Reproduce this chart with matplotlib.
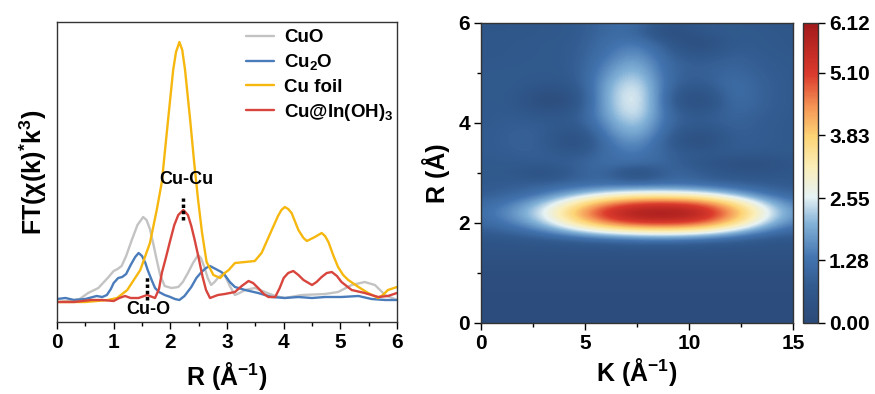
import numpy as np
import matplotlib
matplotlib.use("Agg")
import matplotlib.pyplot as plt
from matplotlib.colors import LinearSegmentedColormap
from matplotlib.ticker import MultipleLocator

plt.rcParams['font.family'] = ['Liberation Sans', 'DejaVu Sans']
plt.rcParams['font.weight'] = 'bold'
plt.rcParams['mathtext.fontset'] = 'custom'
plt.rcParams['mathtext.rm'] = 'Liberation Sans:bold'
plt.rcParams['mathtext.it'] = 'Liberation Sans:bold'
plt.rcParams['mathtext.bf'] = 'Liberation Sans:bold'
plt.rcParams['mathtext.default'] = 'rm'

# ---------------- Left panel data (FT magnitude, arbitrary units) -------------
cuo_r = [0, 0.2, 0.4, 0.55, 0.73, 0.91, 1.0, 1.07, 1.14, 1.22, 1.32, 1.42, 1.52, 1.58, 1.64, 1.7,
         1.76, 1.82, 1.9, 2.02, 2.14, 2.22, 2.31, 2.4, 2.49, 2.54, 2.6, 2.66, 2.72, 2.78, 2.84,
         2.9, 2.96, 3.05, 3.14, 3.22, 3.32, 3.49, 3.67, 3.85, 4.02, 4.32, 4.73, 4.96, 5.2, 5.43,
         5.61, 5.79, 6.0]
cuo_v = [20, 21, 23, 29, 34, 45, 51, 53, 56, 66, 82, 97, 105, 102, 93, 78,
         62, 47, 36, 34, 35, 40, 49, 59, 67, 64, 55, 44, 37, 40, 44,
         47, 47, 36, 27, 29, 32, 34, 30, 26, 24, 27, 28, 30, 37, 40,
         37, 27, 22]

cu2o_r = [0, 0.15, 0.3, 0.5, 0.7, 0.8, 0.88, 0.95, 1.0, 1.08, 1.15, 1.22, 1.3, 1.38, 1.44, 1.5,
          1.56, 1.6, 1.67, 1.73, 1.8, 1.9, 2.0, 2.08, 2.16, 2.25, 2.37, 2.46, 2.55, 2.63, 2.7,
          2.8, 2.9, 2.96, 3.05, 3.14, 3.32, 3.55, 3.79, 4.02, 4.26, 4.5, 4.73, 5.02, 5.32, 5.55,
          5.79, 6.0]
cu2o_v = [23, 24, 22, 23, 26, 25, 27, 33, 39, 44, 45, 48, 57, 65, 69, 66,
          59, 52, 42, 34, 30, 27, 25, 23, 22, 26, 35, 44, 50, 54, 56,
          53, 50, 47, 40, 35, 32, 29, 25, 24, 25, 24, 25, 25, 26, 23,
          22, 22]

cufoil_r = [0, 0.5, 0.9, 1.06, 1.24, 1.47, 1.64, 1.76, 1.85, 1.96, 2.05, 2.1, 2.16, 2.21, 2.26,
            2.35, 2.42, 2.49, 2.56, 2.64, 2.76, 2.88, 2.96, 3.03, 3.14, 3.32, 3.49, 3.61, 3.79,
            3.9, 3.96, 4.02, 4.08, 4.14, 4.26, 4.35, 4.41, 4.55, 4.67, 4.73, 4.79, 4.88, 4.96,
            5.05, 5.14, 5.32, 5.49, 5.67, 5.75, 5.84, 6.0]
cufoil_v = [20, 20, 22, 24, 32, 52, 79, 112, 140, 202, 252, 270, 280, 272, 252,
            202, 160, 122, 89, 60, 47, 44, 49, 52, 59, 60, 61, 69, 92,
            106, 112, 115, 113, 109, 92, 84, 81, 85, 89, 86, 80, 66, 55,
            47, 42, 35, 29, 24, 27, 32, 35]

cuin_r = [0, 0.3, 0.6, 0.8, 1.0, 1.1, 1.2, 1.3, 1.44, 1.59, 1.73, 1.8, 1.85, 1.92, 2.0, 2.07,
          2.14, 2.23, 2.31, 2.37, 2.43, 2.5, 2.57, 2.63, 2.7, 2.84, 2.96, 3.14, 3.26, 3.38, 3.46,
          3.55, 3.65, 3.73, 3.85, 3.93, 4.0, 4.08, 4.17, 4.26, 4.35, 4.5, 4.58, 4.67, 4.76, 4.85,
          4.94, 5.02, 5.2, 5.43, 5.67, 5.84, 6.0]
cuin_v = [20, 20, 22, 22, 21, 24, 26, 24, 24, 27, 24, 33, 49, 64, 82, 97,
          107, 112, 107, 96, 82, 64, 45, 32, 24, 27, 28, 30, 36, 41, 39,
          34, 28, 25, 25, 34, 44, 49, 51, 47, 42, 37, 40, 45, 49, 50,
          46, 40, 32, 29, 25, 26, 29]

series_names = ['CuO', 'Cu$_2$O', 'Cu foil', 'Cu@In(OH)$_3$']

# ---------------- Right panel data (wavelet transform magnitude grid) ----------
wt_k = [0, 1.5, 3, 4.5, 6, 7.5, 9, 10.5, 12, 13.5, 15]
wt_r = [round(0.2 * i, 1) for i in range(31)]
wt_z = [
    [0.12, 0.12, 0.12, 0.12, 0.12, 0.12, 0.12, 0.12, 0.12, 0.12, 0.12],  # 0.0
    [0.12, 0.12, 0.12, 0.12, 0.12, 0.12, 0.12, 0.12, 0.12, 0.12, 0.12],  # 0.2
    [0.12, 0.12, 0.12, 0.12, 0.12, 0.12, 0.12, 0.12, 0.12, 0.12, 0.12],  # 0.4
    [0.14, 0.14, 0.14, 0.14, 0.14, 0.14, 0.14, 0.14, 0.14, 0.14, 0.14],  # 0.6
    [0.16, 0.16, 0.16, 0.16, 0.16, 0.16, 0.16, 0.16, 0.16, 0.16, 0.16],  # 0.8
    [0.22, 0.22, 0.22, 0.22, 0.22, 0.22, 0.22, 0.22, 0.22, 0.22, 0.22],  # 1.0
    [0.30, 0.30, 0.30, 0.30, 0.30, 0.30, 0.30, 0.30, 0.30, 0.30, 0.30],  # 1.2
    [0.40, 0.40, 0.40, 0.40, 0.40, 0.40, 0.40, 0.40, 0.40, 0.40, 0.40],  # 1.4
    [0.45, 0.50, 0.55, 0.60, 0.70, 0.80, 0.80, 0.70, 0.60, 0.50, 0.45],  # 1.6
    [0.75, 0.90, 1.30, 1.90, 2.40, 2.70, 2.80, 2.60, 2.00, 1.30, 0.90],  # 1.8
    [1.05, 1.45, 2.20, 3.40, 4.60, 5.20, 5.30, 5.00, 3.90, 2.40, 1.40],  # 2.0
    [1.20, 1.70, 2.60, 4.10, 5.50, 6.10, 6.20, 5.90, 4.60, 2.90, 1.65],  # 2.2
    [1.05, 1.45, 2.20, 3.30, 4.50, 5.10, 5.20, 4.90, 3.80, 2.40, 1.40],  # 2.4
    [0.80, 0.95, 1.30, 1.90, 2.40, 2.70, 2.70, 2.50, 1.90, 1.25, 0.90],  # 2.6
    [0.70, 0.80, 0.90, 1.00, 1.10, 1.00, 1.10, 1.00, 0.90, 0.80, 0.70],  # 2.8
    [0.70, 0.70, 0.15, 0.90, 1.10, 0.05, 1.10, 0.90, 0.50, 0.50, 0.60],  # 3.0
    [0.70, 0.75, 0.80, 0.90, 1.20, 1.20, 1.00, 0.55, 0.25, 0.20, 0.60],  # 3.2
    [0.75, 0.85, 0.90, 0.55, 1.20, 1.50, 0.90, 0.70, 0.80, 0.70, 0.70],  # 3.4
    [0.75, 0.90, 0.90, 0.05, 1.30, 1.80, 0.80, 0.05, 0.90, 0.80, 0.70],  # 3.6
    [0.75, 0.90, 0.90, 0.25, 1.50, 2.20, 0.90, 0.25, 0.90, 0.80, 0.70],  # 3.8
    [0.70, 0.85, 0.80, 0.60, 1.70, 2.50, 1.00, 0.70, 1.00, 0.80, 0.70],  # 4.0
    [0.70, 0.80, 0.50, 0.60, 1.90, 2.80, 1.00, 0.55, 1.10, 0.85, 0.70],  # 4.2
    [0.70, 0.75, 0.05, 0.35, 2.00, 2.90, 0.90, 0.00, 1.25, 0.90, 0.70],  # 4.4
    [0.70, 0.75, 0.20, 0.40, 2.00, 2.90, 0.90, 0.20, 1.30, 0.90, 0.70],  # 4.6
    [0.70, 0.75, 0.60, 0.60, 1.90, 2.70, 1.00, 0.70, 1.25, 0.90, 0.70],  # 4.8
    [0.70, 0.70, 0.70, 0.70, 1.70, 2.40, 1.00, 0.80, 1.10, 0.85, 0.70],  # 5.0
    [0.65, 0.70, 0.70, 0.75, 1.50, 2.10, 1.00, 0.80, 1.00, 0.80, 0.70],  # 5.2
    [0.60, 0.65, 0.70, 0.75, 1.30, 1.80, 0.90, 0.45, 0.90, 0.75, 0.65],  # 5.4
    [0.60, 0.65, 0.70, 0.75, 1.20, 1.50, 0.70, 0.00, 0.80, 0.70, 0.60],  # 5.6
    [0.60, 0.60, 0.65, 0.70, 1.10, 1.10, 0.00, 0.60, 0.75, 0.70, 0.60],  # 5.8
    [0.55, 0.60, 0.65, 0.70, 1.10, 1.20, 0.40, 0.70, 0.70, 0.65, 0.55],  # 6.0
]
cbar_ticks = [0.00, 1.28, 2.55, 3.83, 5.10, 6.12]
cbar_labels = ['0.00', '1.28', '2.55', '3.83', '5.10', '6.12']

# ---------------- Figure ----------------
W, H = 875, 394
fig = plt.figure(figsize=(W / 100, H / 100), dpi=100)

def fa(x0, y0, x1, y1):
    return [x0 / W, 1 - y1 / H, (x1 - x0) / W, (y1 - y0) / H]

ax1 = fig.add_axes(fa(57, 22, 397, 322))
colors = ['#c3c3c3', '#4a7cbb', '#f6b80f', '#d8453d']
for (r, v), c, n in zip([(cuo_r, cuo_v), (cu2o_r, cu2o_v), (cufoil_r, cufoil_v), (cuin_r, cuin_v)],
                        colors, series_names):
    ax1.plot(r, v, color=c, lw=1.7, label=n, solid_joinstyle='round', solid_capstyle='round')
ax1.set_xlim(0, 6)
ax1.set_ylim(0, 300)
ax1.set_yticks([])
ax1.xaxis.set_major_locator(MultipleLocator(1))
ax1.xaxis.set_minor_locator(MultipleLocator(0.5))
ax1.tick_params(axis='x', which='major', direction='out', length=5, width=1, labelsize=15, pad=3)
ax1.tick_params(axis='x', which='minor', direction='out', length=3, width=1)
for lab in ax1.get_xticklabels():
    lab.set_fontweight('bold')
for s in ax1.spines.values():
    s.set_linewidth(1)
    s.set_color('#333333')
ax1.set_xlabel('R (Å$^{-1}$)', fontsize=18, fontweight='bold', labelpad=6)
ax1.set_ylabel('FT(χ(k)$^{*}$k$^{3}$)', fontsize=18, fontweight='bold', labelpad=6)

leg = ax1.legend(loc='upper left', bbox_to_anchor=(246 / W, 1 - 29 / H), bbox_transform=fig.transFigure,
                 frameon=False, handlelength=1.5, handletextpad=0.55,
                 labelspacing=0.33, borderpad=0, borderaxespad=0,
                 prop={'weight': 'bold', 'size': 13.5})

ax1.text(2.29, 143, 'Cu-Cu', ha='center', va='center', fontsize=13, fontweight='bold')
ax1.plot([2.22, 2.22], [102, 124], color='black', lw=2.5, ls=(0, (1, 0.8)))
ax1.text(1.62, 12, 'Cu-O', ha='center', va='center', fontsize=13, fontweight='bold')
ax1.plot([1.58, 1.58], [22, 45], color='black', lw=2.5, ls=(0, (1, 0.8)))

# right panel
cmap = LinearSegmentedColormap.from_list('wt', [
    (0.00, '#2b4a79'),
    (0.12, '#315a8e'),
    (0.22, '#4475b0'),
    (0.33, '#83b2d8'),
    (0.42, '#e6f2f4'),
    (0.52, '#fbeeb8'),
    (0.62, '#fdd576'),
    (0.72, '#f59656'),
    (0.83, '#db3a2c'),
    (1.00, '#a21a1c'),
])
ax2 = fig.add_axes(fa(481, 23, 793, 323))
z = np.array(wt_z)
dk = wt_k[1] - wt_k[0]
dr = wt_r[1] - wt_r[0]
im = ax2.imshow(z, origin='lower', aspect='auto', cmap=cmap, vmin=0, vmax=6.12,
                interpolation='bicubic',
                extent=[wt_k[0] - dk / 2, wt_k[-1] + dk / 2, wt_r[0] - dr / 2, wt_r[-1] + dr / 2])
ax2.set_xlim(0, 15)
ax2.set_ylim(0, 6)
ax2.xaxis.set_major_locator(MultipleLocator(5))
ax2.xaxis.set_minor_locator(MultipleLocator(2.5))
ax2.yaxis.set_major_locator(MultipleLocator(2))
ax2.yaxis.set_minor_locator(MultipleLocator(1))
ax2.tick_params(which='major', direction='out', length=5, width=1, labelsize=15, pad=3)
ax2.tick_params(which='minor', direction='out', length=3, width=1)
for lab in ax2.get_xticklabels() + ax2.get_yticklabels():
    lab.set_fontweight('bold')
for s in ax2.spines.values():
    s.set_linewidth(1)
    s.set_color('#333333')
ax2.set_xlabel('K (Å$^{-1}$)', fontsize=18, fontweight='bold', labelpad=2)
ax2.set_ylabel('R (Å)', fontsize=18, fontweight='bold', labelpad=6)

cax = fig.add_axes(fa(803, 23, 818, 323))
cb = fig.colorbar(im, cax=cax)
cb.set_ticks(cbar_ticks)
cb.set_ticklabels(cbar_labels)
cb.ax.tick_params(direction='out', length=5, width=1, labelsize=15, pad=3)
for lab in cb.ax.get_yticklabels():
    lab.set_fontweight('bold')
cb.outline.set_linewidth(1)
cb.outline.set_edgecolor('#333333')

fig.savefig('out.png', dpi=100)
